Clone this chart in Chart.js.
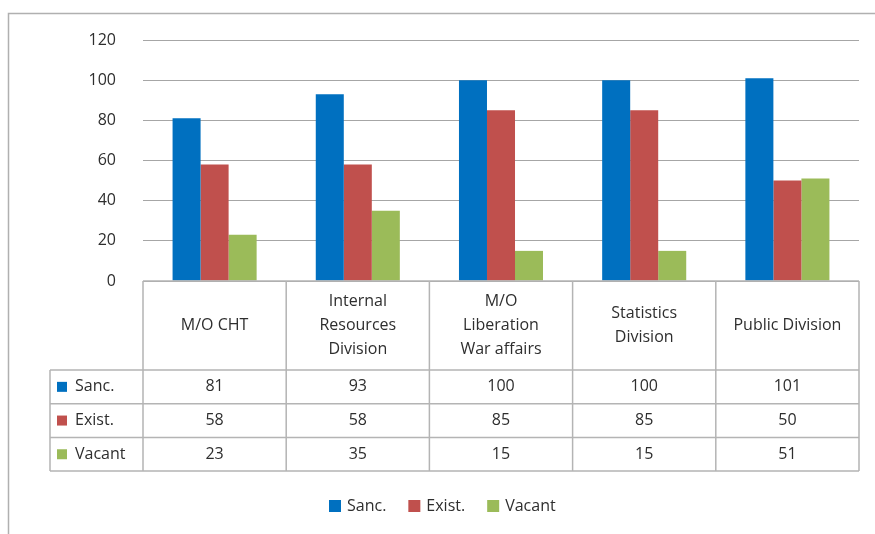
<!DOCTYPE html>
<html>
<head>
<meta charset="utf-8">
<script src="https://cdn.jsdelivr.net/npm/chart.js@4.4.1/dist/chart.umd.min.js"></script>
<style>
  html, body { margin: 0; padding: 0; background: #fff; }
  #wrap { width: 875px; height: 534px; }
</style>
</head>
<body>
<div id="wrap"><canvas id="chart"></canvas></div>
<script>
var categories = [
    ['M/O CHT'],
    ['Internal', 'Resources', 'Division'],
    ['M/O', 'Liberation', 'War affairs'],
    ['Statistics', 'Division'],
    ['Public Division']
];
var seriesNames = ['Sanc.', 'Exist.', 'Vacant'];
var sanc = [81, 93, 100, 100, 101];
var exist = [58, 58, 85, 85, 50];
var vacant = [23, 35, 15, 15, 51];
var seriesColors = ['#0070C0', '#C0504D', '#9BBB59'];

var FAMILY = '"Open Sans", "Noto Sans", sans-serif';
var FONT = '16px ' + FAMILY;
var TEXT = '#2E2E2E';
var LINE = '#B4B4B4';

// table under the plot + legend, drawn from the same arrays
var tablePlugin = {
    id: 'dataTable',
    beforeDraw: function (chart) {
        var c = chart.ctx;
        c.save();
        c.strokeStyle = '#B0B0B0';
        c.lineWidth = 1.5;
        c.beginPath();
        c.moveTo(8.5, chart.height);
        c.lineTo(8.5, 13.5);
        c.lineTo(chart.width, 13.5);
        c.stroke();
        c.restore();
    },
    afterDraw: function (chart) {
        var c = chart.ctx;
        var x = chart.scales.x;
        var area = chart.chartArea;
        var top = area.bottom;
        var headH = 89;
        var rowH = 33.7;
        var leftCol = 50;
        var rows = [sanc, exist, vacant];
        var half = (x.getPixelForValue(1) - x.getPixelForValue(0)) / 2;
        var bottom = top + headH + rowH * rows.length;

        c.save();
        c.strokeStyle = LINE;
        c.lineWidth = 1.5;
        c.beginPath();
        // horizontal lines
        c.moveTo(area.left, top);
        c.lineTo(area.right, top);
        for (var r = 0; r <= rows.length; r++) {
            var y = top + headH + rowH * r;
            c.moveTo(leftCol, y);
            c.lineTo(area.right, y);
        }
        // vertical lines
        c.moveTo(leftCol, top + headH);
        c.lineTo(leftCol, bottom);
        for (var i = 0; i < categories.length; i++) {
            var lx = x.getPixelForValue(i) - half;
            c.moveTo(lx, top);
            c.lineTo(lx, bottom);
        }
        c.moveTo(area.right, top);
        c.lineTo(area.right, bottom);
        c.stroke();

        c.font = FONT;
        c.fillStyle = TEXT;
        c.textAlign = 'center';
        c.textBaseline = 'middle';
        var lh = 24;
        categories.forEach(function (lines, i) {
            var cx = x.getPixelForValue(i);
            var cy = top + headH / 2 - (lines.length - 1) * lh / 2;
            lines.forEach(function (t, k) {
                c.fillText(t, cx, cy + k * lh);
            });
        });

        rows.forEach(function (vals, r) {
            var cy = top + headH + rowH * r + rowH / 2;
            c.fillStyle = seriesColors[r];
            c.fillRect(57, cy - 5, 10, 10);
            c.fillStyle = TEXT;
            c.textAlign = 'left';
            c.fillText(seriesNames[r], 75, cy);
            c.textAlign = 'center';
            vals.forEach(function (v, i) {
                c.fillText(String(v), x.getPixelForValue(i), cy);
            });
        });

        // bottom legend
        var ly = 506;
        var px = 329;
        seriesNames.forEach(function (name, r) {
            c.fillStyle = seriesColors[r];
            c.fillRect(px, ly - 6, 12, 12);
            c.fillStyle = TEXT;
            c.textAlign = 'left';
            c.fillText(name, px + 18, ly);
            px += 18 + c.measureText(name).width + 22;
        });
        c.restore();
    }
};

new Chart(document.getElementById('chart'), {
    type: 'bar',
    data: {
        labels: categories,
        datasets: [
            { label: seriesNames[0], data: sanc, backgroundColor: seriesColors[0] },
            { label: seriesNames[1], data: exist, backgroundColor: seriesColors[1] },
            { label: seriesNames[2], data: vacant, backgroundColor: seriesColors[2] }
        ]
    },
    options: {
        responsive: true,
        maintainAspectRatio: false,
        animation: false,
        datasets: {
            bar: { barPercentage: 1, categoryPercentage: 0.587 }
        },
        layout: {
            padding: { left: 0, right: 16, top: 40, bottom: 253 }
        },
        plugins: {
            legend: { display: false },
            tooltip: { enabled: false }
        },
        scales: {
            x: {
                display: false,
                grid: { display: false }
            },
            y: {
                min: 0,
                max: 120,
                ticks: {
                    stepSize: 20,
                    padding: 27,
                    color: TEXT,
                    font: { family: FAMILY, size: 16 }
                },
                grid: { color: '#A6A6A6', drawTicks: false },
                border: { display: false },
                afterFit: function (scale) { scale.width = 143; }
            }
        }
    },
    plugins: [tablePlugin]
});
</script>
</body>
</html>
